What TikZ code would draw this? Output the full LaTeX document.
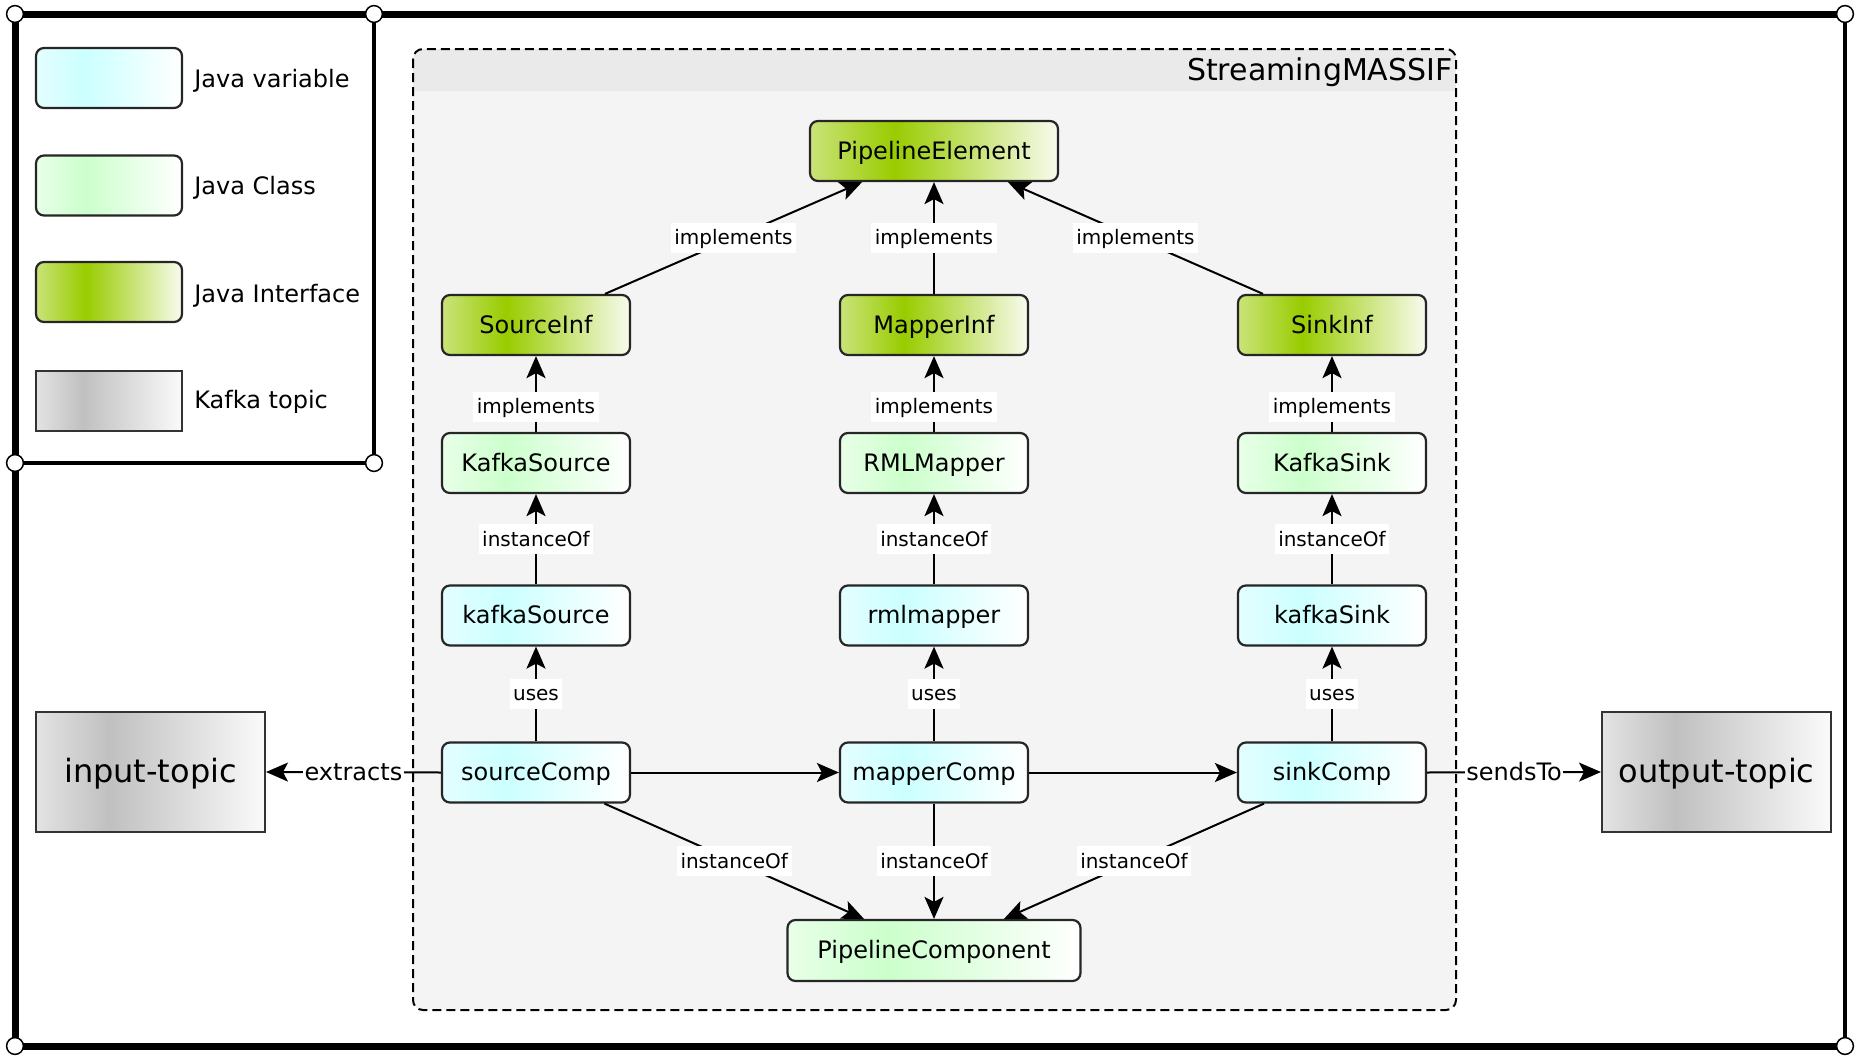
\documentclass[tikz,border=0pt]{standalone}
\usepackage{fontspec}
\setmainfont{DejaVu Sans}
\usetikzlibrary{arrows.meta}
\definecolor{varA}{HTML}{E4FEFF}
\definecolor{varB}{HTML}{CCFFFF}
\definecolor{varC}{HTML}{FFFFFF}
\definecolor{clsA}{HTML}{E8FFE8}
\definecolor{clsB}{HTML}{CCFFCC}
\definecolor{clsC}{HTML}{FFFFFF}
\definecolor{ifcA}{HTML}{CAE37A}
\definecolor{ifcB}{HTML}{99CC00}
\definecolor{ifcC}{HTML}{F8FBEE}
\definecolor{kafA}{HTML}{E3E3E3}
\definecolor{kafB}{HTML}{C0C0C0}
\definecolor{kafC}{HTML}{FAFAFA}
\definecolor{headcol}{HTML}{EAEAEA}
\definecolor{bodycol}{HTML}{F4F4F4}
\pgfdeclarehorizontalshading{varsh}{100bp}{color(0bp)=(varA); color(25bp)=(varA); color(42bp)=(varB); color(75bp)=(varC); color(100bp)=(varC)}
\pgfdeclarehorizontalshading{clssh}{100bp}{color(0bp)=(clsA); color(25bp)=(clsA); color(42bp)=(clsB); color(75bp)=(clsC); color(100bp)=(clsC)}
\pgfdeclarehorizontalshading{ifcsh}{100bp}{color(0bp)=(ifcA); color(25bp)=(ifcA); color(42bp)=(ifcB); color(75bp)=(ifcC); color(100bp)=(ifcC)}
\pgfdeclarehorizontalshading{kafsh}{100bp}{color(0bp)=(kafA); color(25bp)=(kafA); color(41bp)=(kafB); color(75bp)=(kafC); color(100bp)=(kafC)}
\begin{document}
\begin{tikzpicture}[x=0.5pt,y=-0.5pt,
  javabox/.style={draw=black!85, line width=1.1pt, rounded corners=4pt,
    minimum width=94pt, minimum height=30pt, inner sep=0pt,
    font=\fontsize{12}{14}\selectfont, text height=10.8pt, text depth=2.6pt},
  varbox/.style={javabox, shade, shading=varsh},
  clsbox/.style={javabox, shade, shading=clssh},
  ifcbox/.style={javabox, shade, shading=ifcsh},
  topicbox/.style={draw=black!80, line width=1pt, shade, shading=kafsh,
    minimum width=114.5pt, minimum height=60pt, inner sep=0pt,
    font=\fontsize{16}{19}\selectfont, text height=14.4pt, text depth=3.5pt},
  legtext/.style={anchor=base west, inner sep=0pt, font=\fontsize{12}{14}\selectfont},
  conn/.style={draw=black, line width=1pt, -{Stealth[length=11pt,width=9.5pt,inset=2.5pt]}},
  lbl/.style={fill=white, inner xsep=1.75pt, inner ysep=1.9pt,
    font=\fontsize{10}{12}\selectfont, text height=9pt, text depth=2.2pt},
  lblbig/.style={fill=white, inner xsep=0.75pt, inner ysep=1pt,
    font=\fontsize{12}{14}\selectfont, text height=10.8pt, text depth=2.6pt},
  thickframe/.style={line width=3.5pt},
  corner/.style={draw=black, fill=white, line width=0.75pt},
]
\useasboundingbox (0,0) rectangle (1860,1060);

% outer frame
\draw[thickframe] (15,14) -- (1845,14);
\draw[thickframe] (15,14) -- (15,1046);
\draw[thickframe] (15,1046) -- (1845,1046);
\draw[line width=1.75pt] (1845,14) -- (1845,1046);
\draw[line width=2pt] (374,14) -- (374,463);
\draw[line width=2pt] (15,463) -- (374,463);
\foreach \p in {(15,14),(374,14),(15,463),(374,463),(1845,14),(15,1046),(1845,1046)}
  \draw[corner] \p circle[radius=4.2pt];

% legend
\node[varbox, minimum width=73pt] (leg1) at (109,78) {};
\node[clsbox, minimum width=73pt] (leg2) at (109,185.5) {};
\node[ifcbox, minimum width=73pt] (leg3) at (109,292) {};
\node[topicbox, minimum width=73pt, minimum height=30pt] (leg4) at (109,400.5) {};
\node[legtext] (legt1) at (194,87) {Java variable};
\node[legtext] (legt2) at (194,194) {Java Class};
\node[legtext] (legt3) at (194,302) {Java Interface};
\node[legtext] (legt4) at (194,408) {Kafka topic};

% container
\begin{scope}
  \clip[rounded corners=5pt] (413,49) rectangle (1456,1010);
  \fill[bodycol] (413,49) rectangle (1456,1010);
  \fill[headcol] (413,49) rectangle (1456,91);
\end{scope}
\draw[line width=1pt, dash pattern=on 4.5pt off 2.5pt, rounded corners=5pt] (413,49) rectangle (1456,1010);
\node[anchor=base east, inner sep=0pt, font=\fontsize{15}{18}\selectfont] (ttl) at (1453,80) {StreamingMASSIF};

% nodes
\node[ifcbox, minimum width=124pt] (pe) at (934,151) {PipelineElement};
\node[ifcbox] (si) at (536,325) {SourceInf};
\node[ifcbox] (mi) at (934,325) {MapperInf};
\node[ifcbox] (ski) at (1332,325) {SinkInf};
\node[clsbox] (ks) at (536,463) {KafkaSource};
\node[clsbox] (rm) at (934,463) {RMLMapper};
\node[clsbox] (kk) at (1332,463) {KafkaSink};
\node[varbox] (vks) at (536,615.5) {kafkaSource};
\node[varbox] (vrm) at (934,615.5) {rmlmapper};
\node[varbox] (vkk) at (1332,615.5) {kafkaSink};
\node[varbox] (sc) at (536,772.5) {sourceComp};
\node[varbox] (mc) at (934,772.5) {mapperComp};
\node[varbox] (skc) at (1332,772.5) {sinkComp};
\node[clsbox, minimum width=146.5pt, minimum height=30.5pt] (pc) at (934,950.5) {PipelineComponent};
\node[topicbox] (it) at (150.5,772) {input-topic};
\node[topicbox] (ot) at (1716.5,772) {output-topic};

% connectors
\draw[conn] ([xshift=34.5pt]si.north) -- node[lbl]{implements} ([xshift=-36pt]pe.south);
\draw[conn] (mi.north) -- node[lbl]{implements} (pe.south);
\draw[conn] ([xshift=-34.5pt]ski.north) -- node[lbl]{implements} ([xshift=37pt]pe.south);

\draw[conn] (ks.north) -- node[lbl,pos=0.33]{implements} (si.south);
\draw[conn] (rm.north) -- node[lbl,pos=0.33]{implements} (mi.south);
\draw[conn] (kk.north) -- node[lbl,pos=0.33]{implements} (ski.south);

\draw[conn] (vks.north) -- node[lbl]{instanceOf} (ks.south);
\draw[conn] (vrm.north) -- node[lbl]{instanceOf} (rm.south);
\draw[conn] (vkk.north) -- node[lbl]{instanceOf} (kk.south);

\draw[conn] (sc.north) -- node[lbl]{uses} (vks.south);
\draw[conn] (mc.north) -- node[lbl]{uses} (vrm.south);
\draw[conn] (skc.north) -- node[lbl]{uses} (vkk.south);

\draw[conn] (sc.east) -- (mc.west);
\draw[conn] (mc.east) -- (skc.west);

\draw[conn] ([xshift=34.25pt]sc.south) -- node[lbl]{instanceOf} ([xshift=-35pt]pc.north);
\draw[conn] (mc.south) -- node[lbl]{instanceOf} (pc.north);
\draw[conn] ([xshift=-34pt]skc.south) -- node[lbl]{instanceOf} ([xshift=35pt]pc.north);

\draw[conn] (sc.west) -- node[lblbig]{extracts} (it.east);
\draw[conn] (skc.east) -- node[lblbig]{sendsTo} (ot.west);
\end{tikzpicture}
\end{document}
